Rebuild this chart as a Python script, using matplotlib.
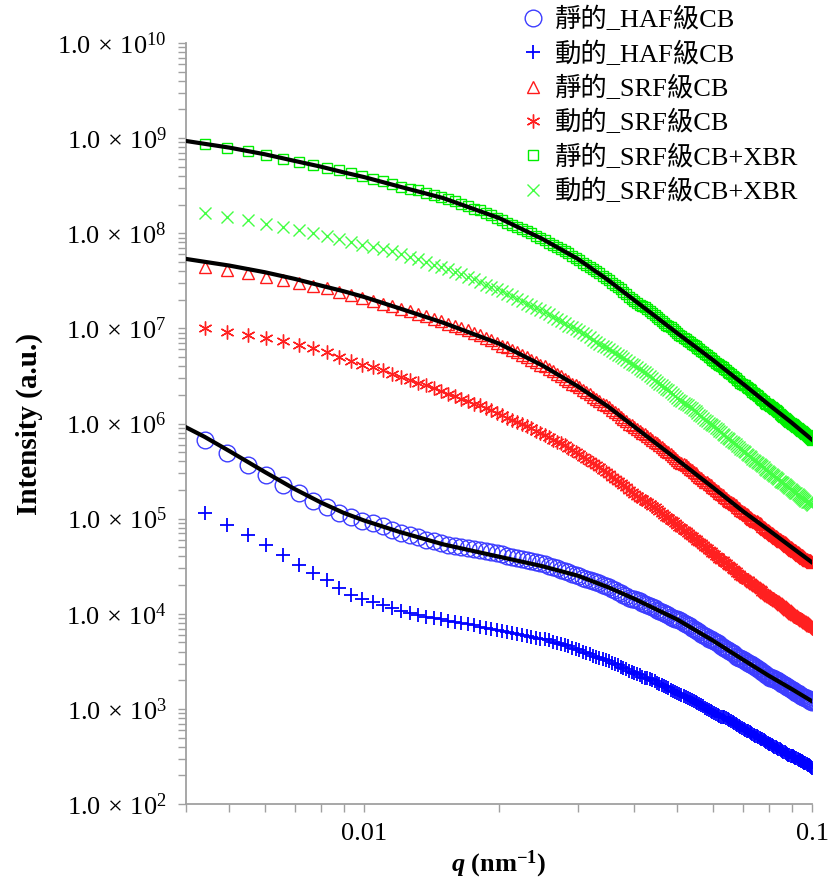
import numpy as np
import matplotlib
matplotlib.use('Agg')
import matplotlib.pyplot as plt
from matplotlib.ticker import LogLocator, FixedLocator, NullFormatter, FuncFormatter

plt.rcParams['font.family'] = ['Liberation Serif', 'Noto Sans CJK TC']
plt.rcParams['mathtext.fontset'] = 'custom'
plt.rcParams['mathtext.rm'] = 'Liberation Serif'
plt.rcParams['mathtext.it'] = 'Liberation Serif:italic:bold'
plt.rcParams['mathtext.bf'] = 'Liberation Serif:bold'

# measured q grid (nm^-1), 175 evenly stepped points
q = np.linspace(0.0044, 0.1, 175)

# log10 of intensity, one value per q point
haf_static = [
    5.83, 5.69, 5.56, 5.46, 5.35, 5.27, 5.19, 5.12, 5.06, 5.02,
    4.98, 4.95, 4.92, 4.88, 4.85, 4.83, 4.81, 4.78, 4.76, 4.74,
    4.72, 4.71, 4.70, 4.69, 4.68, 4.67, 4.66, 4.65, 4.64, 4.63,
    4.61, 4.60, 4.59, 4.58, 4.56, 4.55, 4.54, 4.53, 4.52, 4.50,
    4.49, 4.48, 4.46, 4.45, 4.44, 4.42, 4.41, 4.40, 4.38, 4.37,
    4.36, 4.34, 4.33, 4.32, 4.30, 4.29, 4.28, 4.26, 4.25, 4.23,
    4.22, 4.20, 4.19, 4.17, 4.16, 4.15, 4.14, 4.13, 4.11, 4.10,
    4.09, 4.08, 4.07, 4.06, 4.04, 4.03, 4.02, 4.01, 4.00, 3.99,
    3.97, 3.96, 3.95, 3.94, 3.93, 3.92, 3.90, 3.89, 3.88, 3.87,
    3.85, 3.84, 3.83, 3.82, 3.81, 3.79, 3.78, 3.77, 3.76, 3.74,
    3.73, 3.72, 3.71, 3.70, 3.69, 3.68, 3.66, 3.65, 3.64, 3.63,
    3.62, 3.61, 3.60, 3.59, 3.58, 3.56, 3.55, 3.54, 3.53, 3.52,
    3.51, 3.50, 3.49, 3.48, 3.47, 3.47, 3.46, 3.45, 3.44, 3.43,
    3.42, 3.41, 3.40, 3.39, 3.38, 3.37, 3.36, 3.35, 3.34, 3.33,
    3.33, 3.32, 3.31, 3.30, 3.30, 3.29, 3.28, 3.27, 3.26, 3.26,
    3.25, 3.24, 3.23, 3.23, 3.22, 3.21, 3.20, 3.20, 3.19, 3.18,
    3.17, 3.17, 3.16, 3.15, 3.14, 3.14, 3.13, 3.12, 3.11, 3.11,
    3.10, 3.09, 3.08, 3.08, 3.07]

haf_dynamic = [
    5.06, 4.93, 4.83, 4.72, 4.62, 4.51, 4.43, 4.35, 4.27, 4.20,
    4.15, 4.12, 4.09, 4.06, 4.03, 4.01, 3.99, 3.97, 3.96, 3.94,
    3.92, 3.91, 3.90, 3.89, 3.88, 3.86, 3.85, 3.84, 3.83, 3.82,
    3.81, 3.80, 3.79, 3.78, 3.77, 3.76, 3.75, 3.74, 3.73, 3.72,
    3.70, 3.69, 3.68, 3.67, 3.66, 3.64, 3.63, 3.62, 3.60, 3.59,
    3.58, 3.56, 3.55, 3.54, 3.52, 3.51, 3.50, 3.48, 3.47, 3.46,
    3.44, 3.43, 3.42, 3.40, 3.39, 3.38, 3.37, 3.36, 3.34, 3.33,
    3.32, 3.31, 3.30, 3.29, 3.27, 3.26, 3.25, 3.24, 3.23, 3.22,
    3.20, 3.19, 3.18, 3.17, 3.16, 3.15, 3.14, 3.13, 3.11, 3.10,
    3.09, 3.08, 3.07, 3.06, 3.05, 3.04, 3.03, 3.01, 3.00, 2.99,
    2.98, 2.97, 2.96, 2.95, 2.94, 2.93, 2.92, 2.92, 2.91, 2.90,
    2.89, 2.88, 2.87, 2.86, 2.85, 2.84, 2.83, 2.82, 2.81, 2.80,
    2.79, 2.78, 2.77, 2.77, 2.76, 2.75, 2.74, 2.73, 2.72, 2.71,
    2.70, 2.69, 2.68, 2.68, 2.67, 2.66, 2.65, 2.64, 2.63, 2.63,
    2.62, 2.61, 2.60, 2.60, 2.59, 2.58, 2.58, 2.57, 2.56, 2.55,
    2.55, 2.54, 2.53, 2.52, 2.52, 2.51, 2.50, 2.50, 2.49, 2.48,
    2.48, 2.47, 2.46, 2.46, 2.45, 2.45, 2.44, 2.43, 2.43, 2.42,
    2.41, 2.41, 2.40, 2.39, 2.38]

srf_static = [
    7.65, 7.61, 7.58, 7.54, 7.51, 7.48, 7.45, 7.42, 7.38, 7.35,
    7.32, 7.29, 7.26, 7.23, 7.20, 7.18, 7.15, 7.13, 7.10, 7.08,
    7.05, 7.03, 7.00, 6.98, 6.95, 6.93, 6.90, 6.88, 6.85, 6.82,
    6.80, 6.77, 6.75, 6.72, 6.70, 6.67, 6.65, 6.62, 6.60, 6.57,
    6.55, 6.52, 6.50, 6.47, 6.45, 6.42, 6.40, 6.38, 6.35, 6.33,
    6.31, 6.28, 6.26, 6.24, 6.21, 6.19, 6.17, 6.14, 6.12, 6.10,
    6.07, 6.05, 6.03, 6.00, 5.98, 5.96, 5.94, 5.92, 5.90, 5.89,
    5.87, 5.85, 5.83, 5.81, 5.79, 5.77, 5.75, 5.73, 5.71, 5.70,
    5.68, 5.66, 5.64, 5.62, 5.60, 5.59, 5.57, 5.56, 5.54, 5.52,
    5.51, 5.49, 5.48, 5.46, 5.44, 5.43, 5.41, 5.39, 5.38, 5.36,
    5.35, 5.33, 5.32, 5.30, 5.29, 5.27, 5.26, 5.25, 5.23, 5.22,
    5.20, 5.19, 5.18, 5.16, 5.15, 5.14, 5.12, 5.11, 5.09, 5.08,
    5.07, 5.06, 5.05, 5.04, 5.02, 5.01, 5.00, 4.99, 4.98, 4.97,
    4.96, 4.95, 4.94, 4.92, 4.91, 4.90, 4.89, 4.88, 4.87, 4.86,
    4.85, 4.84, 4.83, 4.82, 4.81, 4.80, 4.79, 4.78, 4.77, 4.76,
    4.75, 4.74, 4.73, 4.72, 4.71, 4.70, 4.69, 4.68, 4.67, 4.67,
    4.66, 4.65, 4.64, 4.63, 4.62, 4.62, 4.61, 4.60, 4.59, 4.58,
    4.57, 4.57, 4.56, 4.55, 4.54]

srf_dynamic = [
    7.00, 6.96, 6.93, 6.90, 6.87, 6.83, 6.79, 6.75, 6.70, 6.66,
    6.62, 6.59, 6.56, 6.52, 6.49, 6.46, 6.43, 6.40, 6.37, 6.34,
    6.31, 6.29, 6.26, 6.24, 6.21, 6.19, 6.16, 6.14, 6.11, 6.09,
    6.06, 6.04, 6.02, 5.99, 5.97, 5.95, 5.92, 5.90, 5.88, 5.86,
    5.83, 5.81, 5.79, 5.77, 5.74, 5.72, 5.70, 5.68, 5.65, 5.63,
    5.61, 5.58, 5.56, 5.54, 5.51, 5.49, 5.47, 5.44, 5.42, 5.40,
    5.37, 5.35, 5.33, 5.30, 5.28, 5.26, 5.24, 5.22, 5.21, 5.19,
    5.17, 5.15, 5.13, 5.12, 5.10, 5.08, 5.06, 5.04, 5.02, 5.01,
    4.99, 4.97, 4.95, 4.93, 4.91, 4.90, 4.88, 4.87, 4.85, 4.83,
    4.82, 4.80, 4.79, 4.77, 4.75, 4.74, 4.72, 4.70, 4.69, 4.67,
    4.66, 4.64, 4.63, 4.61, 4.60, 4.58, 4.57, 4.56, 4.54, 4.53,
    4.51, 4.50, 4.49, 4.47, 4.46, 4.45, 4.43, 4.42, 4.40, 4.39,
    4.38, 4.37, 4.36, 4.35, 4.33, 4.32, 4.31, 4.30, 4.29, 4.28,
    4.27, 4.26, 4.25, 4.23, 4.22, 4.21, 4.20, 4.19, 4.18, 4.17,
    4.16, 4.15, 4.14, 4.13, 4.12, 4.11, 4.10, 4.09, 4.08, 4.07,
    4.06, 4.05, 4.04, 4.03, 4.02, 4.01, 4.00, 3.99, 3.98, 3.98,
    3.97, 3.96, 3.95, 3.94, 3.93, 3.93, 3.92, 3.91, 3.90, 3.89,
    3.88, 3.88, 3.87, 3.86, 3.85]

xbr_static = [
    8.94, 8.90, 8.86, 8.82, 8.78, 8.75, 8.72, 8.69, 8.66, 8.63,
    8.60, 8.57, 8.55, 8.52, 8.49, 8.47, 8.45, 8.42, 8.40, 8.38,
    8.36, 8.34, 8.31, 8.29, 8.26, 8.24, 8.21, 8.19, 8.16, 8.14,
    8.11, 8.09, 8.07, 8.04, 8.02, 8.00, 7.97, 7.95, 7.93, 7.90,
    7.88, 7.86, 7.83, 7.81, 7.79, 7.76, 7.74, 7.72, 7.69, 7.67,
    7.65, 7.62, 7.60, 7.58, 7.55, 7.53, 7.51, 7.48, 7.46, 7.43,
    7.41, 7.38, 7.36, 7.33, 7.31, 7.29, 7.27, 7.25, 7.23, 7.22,
    7.20, 7.18, 7.16, 7.14, 7.12, 7.10, 7.08, 7.06, 7.04, 7.03,
    7.01, 6.99, 6.97, 6.95, 6.93, 6.92, 6.90, 6.89, 6.87, 6.86,
    6.84, 6.83, 6.81, 6.79, 6.78, 6.76, 6.75, 6.73, 6.72, 6.70,
    6.69, 6.67, 6.66, 6.64, 6.63, 6.61, 6.60, 6.59, 6.57, 6.56,
    6.54, 6.53, 6.52, 6.50, 6.49, 6.48, 6.46, 6.45, 6.43, 6.42,
    6.41, 6.40, 6.38, 6.37, 6.36, 6.35, 6.33, 6.32, 6.31, 6.30,
    6.29, 6.27, 6.26, 6.25, 6.24, 6.22, 6.21, 6.20, 6.19, 6.18,
    6.17, 6.16, 6.15, 6.14, 6.13, 6.12, 6.10, 6.09, 6.08, 6.07,
    6.06, 6.05, 6.04, 6.03, 6.02, 6.01, 6.00, 5.99, 5.98, 5.97,
    5.96, 5.95, 5.94, 5.93, 5.92, 5.92, 5.91, 5.90, 5.89, 5.88,
    5.87, 5.86, 5.85, 5.84, 5.83]

xbr_dynamic = [
    8.21, 8.17, 8.14, 8.10, 8.07, 8.03, 8.00, 7.97, 7.94, 7.91,
    7.88, 7.86, 7.83, 7.81, 7.78, 7.75, 7.73, 7.70, 7.67, 7.65,
    7.62, 7.59, 7.57, 7.54, 7.52, 7.49, 7.46, 7.44, 7.41, 7.39,
    7.36, 7.34, 7.31, 7.29, 7.26, 7.24, 7.21, 7.19, 7.17, 7.15,
    7.12, 7.10, 7.08, 7.06, 7.03, 7.01, 6.99, 6.97, 6.95, 6.93,
    6.91, 6.88, 6.86, 6.84, 6.82, 6.80, 6.78, 6.76, 6.74, 6.72,
    6.71, 6.69, 6.67, 6.65, 6.63, 6.61, 6.59, 6.57, 6.55, 6.54,
    6.52, 6.50, 6.48, 6.46, 6.44, 6.42, 6.40, 6.38, 6.36, 6.35,
    6.33, 6.31, 6.29, 6.27, 6.25, 6.24, 6.22, 6.21, 6.19, 6.17,
    6.16, 6.14, 6.13, 6.11, 6.09, 6.08, 6.06, 6.04, 6.03, 6.01,
    6.00, 5.98, 5.97, 5.95, 5.94, 5.92, 5.91, 5.89, 5.88, 5.86,
    5.85, 5.84, 5.82, 5.81, 5.79, 5.78, 5.76, 5.75, 5.73, 5.72,
    5.71, 5.70, 5.68, 5.67, 5.66, 5.65, 5.63, 5.62, 5.61, 5.60,
    5.59, 5.57, 5.56, 5.55, 5.54, 5.52, 5.51, 5.50, 5.49, 5.48,
    5.47, 5.46, 5.45, 5.44, 5.43, 5.42, 5.40, 5.39, 5.38, 5.37,
    5.36, 5.35, 5.34, 5.33, 5.32, 5.31, 5.30, 5.29, 5.28, 5.27,
    5.27, 5.26, 5.25, 5.24, 5.23, 5.22, 5.21, 5.20, 5.19, 5.18,
    5.18, 5.17, 5.16, 5.15, 5.14]

# model fits (black lines), log10 intensity
fit_q = [0.004, 0.0044, 0.005, 0.006, 0.007, 0.008, 0.009, 0.010, 0.012, 0.015,
         0.02, 0.025, 0.03, 0.035, 0.04, 0.05, 0.06, 0.07, 0.08, 0.09, 0.1]
fit_haf = [5.96, 5.86, 5.71, 5.49, 5.31, 5.17, 5.06, 4.98, 4.86, 4.73,
           4.60, 4.50, 4.40, 4.28, 4.16, 3.94, 3.72, 3.52, 3.35, 3.21, 3.08]
fit_srf = [7.73, 7.70, 7.66, 7.59, 7.52, 7.45, 7.39, 7.33, 7.21, 7.06,
           6.84, 6.61, 6.39, 6.18, 5.97, 5.62, 5.33, 5.08, 4.88, 4.70, 4.54]
fit_xbr = [8.97, 8.94, 8.90, 8.83, 8.76, 8.70, 8.64, 8.59, 8.49, 8.37,
           8.16, 7.94, 7.73, 7.51, 7.30, 6.95, 6.67, 6.42, 6.20, 6.01, 5.83]

labels = ['靜的_HAF級CB', '動的_HAF級CB', '靜的_SRF級CB',
          '動的_SRF級CB', '靜的_SRF級CB+XBR', '動的_SRF級CB+XBR']
y_decades = [2, 3, 4, 5, 6, 7, 8, 9, 10]

fig = plt.figure(figsize=(8.29, 8.90), dpi=100)
ax = fig.add_axes([0.2244, 0.0966, 0.7551, 0.8551])

def I(v):
    return 10 ** np.asarray(v)

ax.plot(q, I(haf_static), ls='none', marker='o', ms=12, mfc='none',
        mec='#3d3dff', mew=1.0, label=labels[0])
ax.plot(q, I(haf_dynamic), ls='none', marker='+', ms=10, color='#0000ff',
        mew=1.3, label=labels[1])
ax.plot(q, I(srf_static), ls='none', marker='^', ms=8, mfc='none',
        mec='#ff1a1a', mew=1.0, label=labels[2])
ax.plot(q, I(srf_dynamic), ls='none', marker=(6, 2, 0), ms=10, color='#ff2020',
        mew=1.0, label=labels[3])
ax.plot(q, I(xbr_static), ls='none', marker='s', ms=7.5, mfc='none',
        mec='#00ee00', mew=1.0, label=labels[4])
ax.plot(q, I(xbr_dynamic), ls='none', marker='x', ms=9, color='#44ff44',
        mew=1.0, label=labels[5])

for f in (fit_haf, fit_srf, fit_xbr):
    ax.plot(fit_q, I(f), color='black', lw=3, zorder=5)

ax.set_xscale('log')
ax.set_yscale('log')
ax.set_xlim(0.004, 0.1)
ax.set_ylim(1e2, 1e10)

for s in ['top', 'right']:
    ax.spines[s].set_visible(False)
for s in ['left', 'bottom']:
    ax.spines[s].set_color('#a0a0a0')
    ax.spines[s].set_linewidth(1.3)

ax.yaxis.set_major_locator(FixedLocator([10.0 ** d for d in y_decades]))
ax.yaxis.set_minor_locator(LogLocator(base=10, subs=np.arange(2, 10), numticks=20))
ax.yaxis.set_major_formatter(FuncFormatter(
    lambda v, p: r'$1.0\,\times\,10^{%d}$' % int(round(np.log10(v)))))
ax.yaxis.set_minor_formatter(NullFormatter())
ax.xaxis.set_major_locator(FixedLocator([0.01, 0.1]))
ax.xaxis.set_minor_locator(LogLocator(base=10, subs=np.arange(2, 10), numticks=20))
ax.xaxis.set_major_formatter(FuncFormatter(lambda v, p: '%g' % v))
ax.xaxis.set_minor_formatter(NullFormatter())

ax.tick_params(which='both', direction='out', length=6, width=1,
               color='#a0a0a0', labelcolor='black')
ax.tick_params(axis='y', labelsize=19, pad=8)
ax.tick_params(axis='x', labelsize=19, pad=8)

ax.set_ylabel('Intensity (a.u.)', fontsize=21, fontweight='bold')
ax.yaxis.set_label_coords(-0.251, 0.5)
ax.yaxis.label.set_va('center')
ax.set_xlabel(r'$q$ (nm$^{\mathbf{-1}}$)', fontsize=19, fontweight='bold')
ax.xaxis.set_label_coords(0.5, -0.079)
ax.xaxis.label.set_va('center')

ax.legend(loc='upper left', bbox_to_anchor=(519.5 / 829, 1 - 7 / 890),
          bbox_transform=fig.transFigure, frameon=False, fontsize=19,
          handlelength=1.0, handletextpad=0.35, borderpad=0, borderaxespad=0,
          labelspacing=0.34, numpoints=1)

fig.savefig('out.png', dpi=100)
